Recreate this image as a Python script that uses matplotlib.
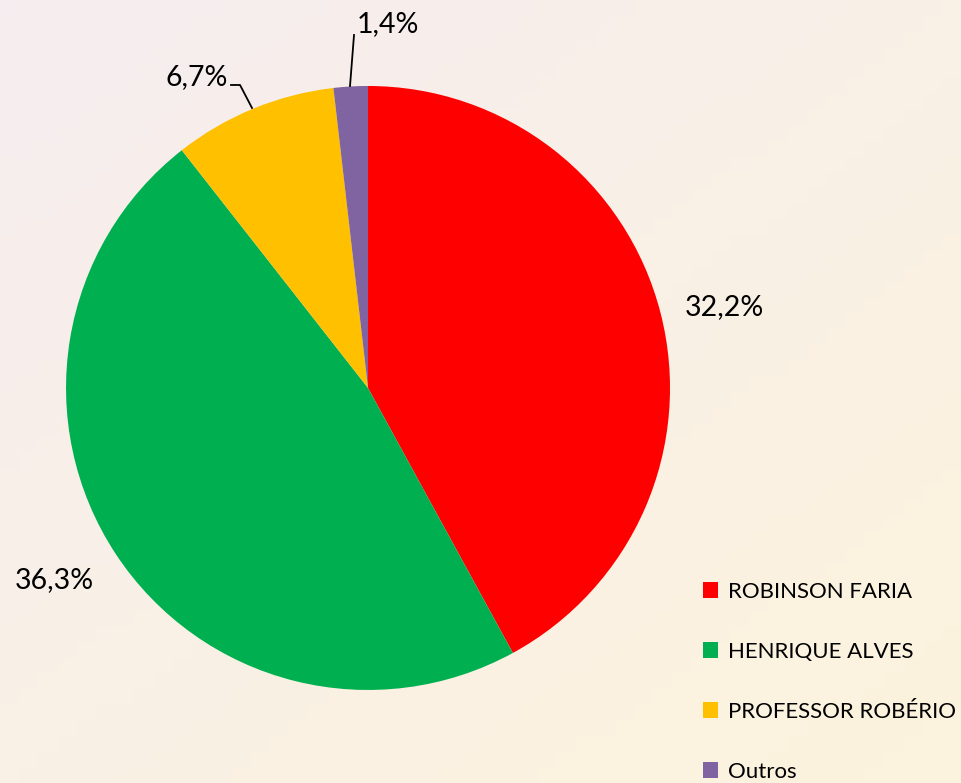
import matplotlib
matplotlib.use('Agg')
import matplotlib.pyplot as plt
import numpy as np

plt.rcParams['font.family'] = ['Lato', 'DejaVu Sans']

# ---------------------DATA------------------------------------------
candidatos = ['ROBINSON FARIA', 'HENRIQUE ALVES', 'PROFESSOR ROBÉRIO', 'Outros']
percentuais = [32.2, 36.3, 6.7, 1.4]
rotulos = ['32,2%', '36,3%', '6,7%', '1,4%']
cores = ['#FF0000', '#00B050', '#FFC000', '#8064A2']
# --------------------------------------------------------------------

fig = plt.figure(figsize=(9.61, 7.83), dpi=100)

# parchment-like background
bg = fig.add_axes([0, 0, 1, 1], zorder=-10)
yy, xx = np.mgrid[0:1:50j, 0:1:50j]
top = np.array([246, 237, 240]) / 255
bot = np.array([252, 243, 222]) / 255
mix = np.clip(0.55 * yy + 0.5 * xx, 0, 1)[..., None]
bg.imshow(top * (1 - mix) + bot * mix, extent=[0, 1, 0, 1], aspect='auto')
bg.axis('off')

ax = fig.add_axes([0.0687, 0.1188, 0.6285, 0.7714])
wedges, _ = ax.pie(percentuais, colors=cores, startangle=90, counterclock=False,
                   radius=1, wedgeprops=dict(linewidth=0))
ax.set_xlim(-1, 1)
ax.set_ylim(-1, 1)
ax.set_aspect('equal')
ax.axis('off')

fs = 20.5
ax.text(1.18, 0.268, rotulos[0], fontsize=fs, ha='center', va='center')
ax.text(-1.04, -0.636, rotulos[1], fontsize=fs, ha='center', va='center')

# leader lines for the small slices (pixel positions -> data units)
px = lambda x: (x - 368) / 302
py = lambda y: (388 - y) / 302

ax.plot([px(231), px(240), px(252)], [py(85), py(85), py(108)],
        color='black', lw=1.3, clip_on=False)
ax.text(px(228), py(77), rotulos[2], fontsize=fs, ha='right', va='center')

ax.plot([px(350), px(354)], [py(86), py(35)], color='black', lw=1.3, clip_on=False)
ax.text(px(357), py(24), rotulos[3], fontsize=fs, ha='left', va='center')

leg = fig.legend(wedges, candidatos, loc='upper left', bbox_to_anchor=(0.722, 0.268),
                 frameon=False, fontsize=16, handlelength=0.7, handleheight=0.7,
                 handletextpad=0.45, labelspacing=1.8, borderaxespad=0)

fig.savefig('out.png', dpi=100)
